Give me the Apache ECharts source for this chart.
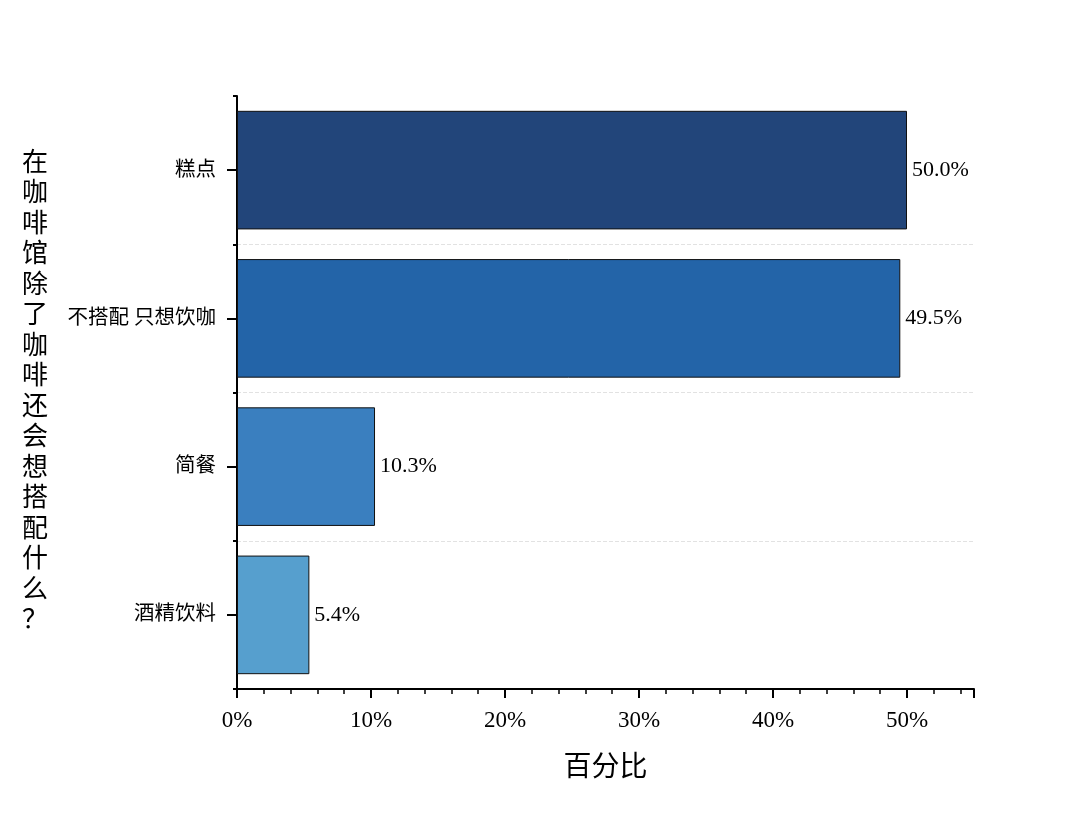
<!DOCTYPE html>
<html><head><meta charset="utf-8">
<script src="https://cdn.jsdelivr.net/npm/echarts@6/dist/echarts.min.js"></script>
<style>html,body{margin:0;padding:0;background:#fff}#c{width:1080px;height:827px}</style>
</head><body><div id="c"></div>
<script>
const categories = ['糕点', '不搭配 只想饮咖', '简餐', '酒精饮料'];
const values = [50.0, 49.5, 10.3, 5.4];
const barColors = ['#22457a', '#2364a8', '#3a7fbf', '#569fce'];
const xTickLabels = ['0%', '10%', '20%', '30%', '40%', '50%'];
const yTitle = '在咖啡馆除了咖啡还会想搭配什么？';
const xTitle = '百分比';

const serif = "'Liberation Serif', 'Noto Sans CJK SC', serif";
const chart = echarts.init(document.getElementById('c'));
chart.setOption({
  animation: false,
  grid: { left: 237, right: 106, top: 96, bottom: 138 },
  xAxis: {
    type: 'value', min: 0, max: 55, interval: 10,
    name: xTitle, nameLocation: 'middle', nameGap: 66,
    nameTextStyle: { fontSize: 28, color: '#000', fontFamily: serif },
    axisLine: { show: true, lineStyle: { color: '#000', width: 2 } },
    axisTick: { show: true, length: 9, lineStyle: { color: '#000', width: 2 } },
    minorTick: { show: true, splitNumber: 5, length: 5, lineStyle: { color: '#000', width: 1.5 } },
    axisLabel: { fontSize: 23, color: '#000', fontFamily: serif, margin: 20,
      showMaxLabel: false,
      formatter: v => { const i = Math.round(v / 10); return (v % 10 === 0 && xTickLabels[i]) ? xTickLabels[i] : ''; } },
    splitLine: { show: false }
  },
  yAxis: [{
    type: 'category', data: categories, inverse: true,
    name: yTitle.split('').join('\n'), nameLocation: 'middle', nameGap: 189, nameRotate: 0,
    nameTextStyle: { fontSize: 26, lineHeight: 30.5, color: '#000', fontFamily: serif },
    axisLine: { show: true, lineStyle: { color: '#000', width: 2 } },
    axisTick: { show: true, alignWithLabel: true, length: 10, lineStyle: { color: '#000', width: 2 } },
    axisLabel: { fontSize: 20.5, color: '#000', fontFamily: serif, margin: 21 },
    splitLine: { show: true, interval: (i) => i !== 0, lineStyle: { color: '#e2e2e2', type: 'dashed', width: 1 } }
  }, {
    type: 'category', data: categories, inverse: true, position: 'left',
    axisLine: { show: false },
    axisTick: { show: true, alignWithLabel: false, length: 4, lineStyle: { color: '#000', width: 2 } },
    axisLabel: { show: false },
    splitLine: { show: false }
  }],
  series: [{
    type: 'bar', yAxisIndex: 0, barCategoryGap: '20%',
    data: values.map((v, i) => ({ value: v, itemStyle: { color: barColors[i] } })),
    itemStyle: { borderColor: '#111', borderWidth: 1 },
    label: { show: true, position: 'right', distance: 5, fontSize: 22, color: '#000', fontFamily: serif,
      formatter: p => p.value.toFixed(1) + '%' }
  }]
});
</script></body></html>
